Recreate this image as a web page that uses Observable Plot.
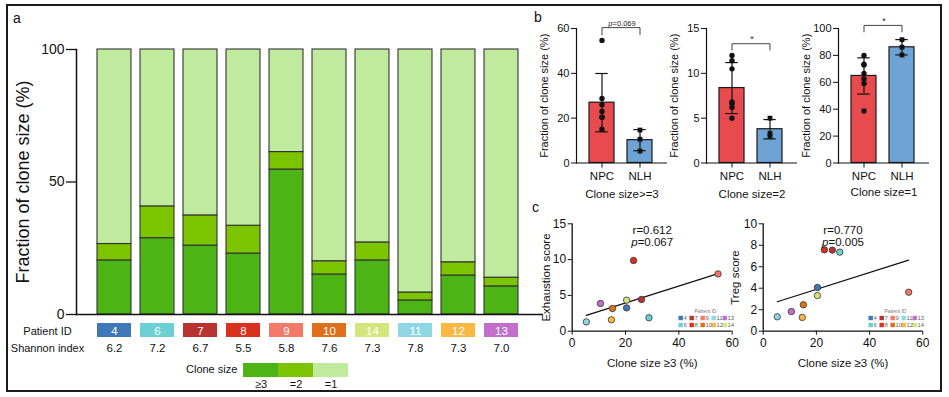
<!DOCTYPE html>
<html><head><meta charset="utf-8">
<script src="https://cdn.jsdelivr.net/npm/d3@7"></script>
<script src="https://cdn.jsdelivr.net/npm/@observablehq/plot@0.6"></script>
<style>
body{margin:0;background:#fff;font-family:"Liberation Sans",Arial,Helvetica,sans-serif;}
#fig{position:relative;width:949px;height:397px;overflow:hidden;background:#fff;}
.lbl{position:absolute;font-size:11px;color:#111;white-space:nowrap;line-height:1;}
#border{position:absolute;left:6px;top:4px;width:936px;height:388px;border:2px solid #1a1a1a;box-sizing:border-box;}
</style></head><body><div id="fig"><div id="border"></div></div>
<script>
// ---------- data ----------
const patients = ["4","6","7","8","9","10","14","11","12","13"];
const patientColors = ["#3f78b9","#6ccfd2","#b93330","#d9301f","#f3796a","#e06f1b","#d4e67b","#8fd8e3","#f8b843","#c16fca"];
const groups = ["NPC","NPC","NPC","NPC","NPC","NPC","NPC","NLH","NLH","NLH"];
const cloneGe3 = [20.4, 28.8, 26.0, 23.0, 54.7, 15.1, 20.4, 5.3, 14.7, 10.6];
const cloneEq2 = [6.2, 12.0, 11.4, 10.5, 6.6, 5.0, 6.8, 3.0, 5.0, 3.3];
const shannon = [6.2, 7.2, 6.7, 5.5, 5.8, 7.6, 7.3, 7.8, 7.3, 7.0];
const exhaustion = [3.26, 1.87, 4.43, 9.87, 8.0, 3.17, 4.33, 1.3, 1.59, 3.87];
const treg = [4.07, 7.36, 7.55, 7.58, 3.63, 2.46, 3.32, 1.34, 1.28, 1.83];
const sizeLabels = ["≥3","=2","=1"];
const sizeColors = ["#4cb414","#7cc300","#c0eb9f"];
const groupNames = ["NPC","NLH"];
const groupColors = ["#e84b4d","#6fa3d5"];
const legendOrder = ["4","7","9","11","13","6","8","10","12","14"];
const bKeys = ["ge3","eq2","eq1"];
const bMax = [60, 15, 100];
const bTicks = [[0,20,40,60],[0,5,10,15],[0,20,40,60,80,100]];
const bTitles = ["Clone size>=3","Clone size=2","Clone size=1"];
const sigText = ["p=0.069","*","*"];
const sigBracket = [[60.4,57.2],[13.3,12.6],[102.3,97.5]];
const sigFont = [7.5, 9, 9];

// ---------- derived table ----------
const rows = patients.map((p,i)=>({
  patient:p, group:groups[i], ge3:cloneGe3[i], eq2:cloneEq2[i],
  eq1: 100 - cloneGe3[i] - cloneEq2[i], shannon: shannon[i].toFixed(1),
  exhaustion: exhaustion[i], treg: treg[i]
}));
const stackData = rows.flatMap(r=>[
  {patient:r.patient,size:"≥3",value:r.ge3},
  {patient:r.patient,size:"=2",value:r.eq2},
  {patient:r.patient,size:"=1",value:r.eq1}
]);

const FONT = '"Liberation Sans", Arial, Helvetica, sans-serif';
const baseStyle = {overflow:"visible", background:"transparent", fontFamily:FONT, color:"#111"};
const fig = document.getElementById("fig");
function place(svg, left, top){
  svg.style.position="absolute"; svg.style.left=left+"px"; svg.style.top=top+"px";
  svg.style.maxWidth="none";
  fig.appendChild(svg);
  d3.select(svg).selectAll("text").filter(function(){return /^p=/.test(this.textContent) && this.children.length===0;})
    .each(function(){const t=this.textContent; this.textContent=""; const s=d3.select(this);
      s.append("tspan").attr("font-style","italic").text("p"); s.append("tspan").text(t.slice(1));});
}
function label(txt, left, top, size, extra){
  const d=document.createElement("div"); d.className="lbl"; d.textContent=txt;
  d.style.left=left+"px"; d.style.top=top+"px"; if(size) d.style.fontSize=size+"px";
  if(extra) Object.assign(d.style, extra);
  fig.appendChild(d);
}
const xBandA = {domain:patients, paddingInner:0.2, paddingOuter:0.433, align:0.47, axis:null};

// ---------- panel a ----------
place(Plot.plot({
  width:560, height:320, marginLeft:76, marginRight:17, marginTop:49, marginBottom:6,
  style:baseStyle,
  x:xBandA,
  y:{domain:[0,100]},
  color:{domain:sizeLabels, range:sizeColors},
  marks:[
    Plot.barY(stackData,{x:"patient", y:"value", fill:"size", stroke:"#333", strokeWidth:1.1}),
    Plot.ruleY([0],{stroke:"#111", strokeWidth:1.5}),
    Plot.frame({anchor:"left", stroke:"#111", strokeWidth:1.5}),
    Plot.axisY({ticks:[0,50,100], tickSize:10, tickPadding:2, fontSize:14, label:null, strokeWidth:1.3}),
    Plot.axisY({ticks:[], tickSize:0, label:"Fraction of clone size (%)", labelAnchor:"center", labelOffset:60, labelArrow:"none", fontSize:18})
  ]
}), 0, 0);

place(Plot.plot({
  width:560, height:40, marginLeft:76, marginRight:17, marginTop:4, marginBottom:2,
  style:baseStyle,
  x:xBandA,
  y:{domain:["Patient ID","Shannon index"], padding:0},
  color:{domain:patients, range:patientColors},
  marks:[
    Plot.cell(rows,{x:"patient", y:()=>"Patient ID", fill:"patient", insetTop:1, insetBottom:2}),
    Plot.text(rows,{x:"patient", y:()=>"Patient ID", text:"patient", fill:"white", fontSize:11.5}),
    Plot.text(rows,{x:"patient", y:()=>"Shannon index", text:"shannon", fill:"#111", fontSize:11.5}),
    Plot.axisY({tickSize:0, tickPadding:29, textAnchor:"middle", fontSize:11, label:null})
  ]
}), 0, 318);

place(Plot.plot({
  width:107, height:32, marginTop:1, marginBottom:17, marginLeft:0, marginRight:0,
  style:baseStyle,
  x:{domain:sizeLabels, padding:0},
  color:{domain:sizeLabels, range:sizeColors},
  marks:[
    Plot.cell(sizeLabels,{x:d=>d, fill:d=>d}),
    Plot.axisX({tickSize:0, tickPadding:3, fontSize:11, label:null})
  ]
}), 242, 362);
label("Clone size", 186, 364, 11);
label("a", 13, 11, 14);
label("b", 534, 10, 14);
label("c", 532, 200, 14);

// ---------- panel b ----------
const bLeft = [530, 660, 792];
bKeys.forEach((key, k)=>{
  const stats = groupNames.map(g=>{
    const v = rows.filter(r=>r.group===g).map(r=>r[key]);
    const m = d3.mean(v), s = d3.deviation(v);
    return {group:g, mean:m, lo:m-s, hi:m+s};
  });
  const caps = stats.flatMap(d=>[{group:d.group, y:d.lo},{group:d.group, y:d.hi}]);
  const [top, leg] = sigBracket[k];
  const bracket = [{group:"NPC",y:leg},{group:"NPC",y:top},{group:"NLH",y:top},{group:"NLH",y:leg}];
  place(Plot.plot({
    width:147, height:197, marginLeft:46, marginRight:10, marginTop:28, marginBottom:34.5,
    style:baseStyle,
    x:{domain:groupNames, paddingInner:0.342, paddingOuter:0.368, align:0.464},
    y:{domain:[0,bMax[k]]},
    color:{domain:groupNames, range:groupColors},
    symbol:{domain:groupNames, range:["circle","square"]},
    marks:[
      Plot.barY(stats,{x:"group", y:"mean", fill:"group", stroke:"#1a1a1a", strokeWidth:1.2}),
      Plot.ruleX(stats,{x:"group", y1:"lo", y2:"hi", stroke:"#111", strokeWidth:1.2}),
      Plot.tickY(caps,{x:"group", y:"y", insetLeft:6.3, insetRight:6.3, stroke:"#111", strokeWidth:1.2}),
      Plot.dot(rows,{x:"group", y:key, symbol:"group", fill:"#111", r:2.7}),
      Plot.line(bracket,{x:"group", y:"y", stroke:"#444", strokeWidth:1}),
      Plot.text([sigText[k]],{y:()=>top, text:d=>d, dy:-4.5, fontSize:sigFont[k], fill:"#222"}),
      Plot.ruleY([0],{stroke:"#111", strokeWidth:1.2}),
      Plot.frame({anchor:"left", stroke:"#111", strokeWidth:1.2}),
      Plot.axisY({ticks:bTicks[k], tickSize:5, tickPadding:2, fontSize:11, label:"Fraction of clone size (%)", labelAnchor:"center", labelOffset:36, labelArrow:"none"}),
      Plot.axisX({tickSize:5, tickPadding:3.5, fontSize:11.5, label:bTitles[k], labelAnchor:"center", labelOffset: k===2 ? 33 : 35, labelArrow:"none"})
    ]
  }), bLeft[k], 0);
});

// ---------- panel c ----------
function scatter(key, left, marginLeft, frameRight, yMax, yTicks, yLabel, yLabelOffset, rTxt, pTxt){
  place(Plot.plot({
    width: frameRight - left + 10, height:170, marginLeft, marginRight:10, marginTop:23.3, marginBottom:39.3,
    style:baseStyle,
    x:{domain:[0,60]},
    y:{domain:[0,yMax]},
    color:{domain:patients, range:patientColors},
    marks:[
      Plot.linearRegressionY(rows,{x:"ge3", y:key, ci:0, stroke:"#111", strokeWidth:1.2}),
      Plot.dot(rows,{x:"ge3", y:key, fill:"patient", stroke:"#333", strokeWidth:0.8, r:3.2}),
      Plot.ruleX([0],{stroke:"#111", strokeWidth:1.3}),
      Plot.ruleY([0],{stroke:"#111", strokeWidth:1.3}),
      Plot.axisX({ticks:[0,20,40,60], tickSize:4, tickPadding:3.5, fontSize:12, label:null}),
      Plot.axisX({ticks:[], tickSize:0, label:"Clone size ≥3 (%)", labelAnchor:"center", labelOffset:36, labelArrow:"none", fontSize:11.5}),
      Plot.axisY({ticks:yTicks, tickSize:4, tickPadding:2, fontSize:12, label:null}),
      Plot.axisY({ticks:[], tickSize:0, label:yLabel, labelAnchor:"center", labelOffset:yLabelOffset, labelArrow:"none", fontSize:11.5}),
      Plot.text([rTxt],{frameAnchor:"top", dy:2, fontSize:11.5, fill:"#111"}),
      Plot.text([pTxt],{frameAnchor:"top", dy:13.7, fontSize:11.5, fill:"#111"})
    ]
  }), left, 200);
}
scatter("exhaustion", 530, 41.7, 731.7, 15, [0,5,10,15], "Exhaustion score", 30, "r=0.612", "p=0.067");
scatter("treg", 722, 40.7, 922.3, 10, [0,2,4,6,8,10], "Treg score", 32, "r=0.770", "p=0.005");

function scatterLegend(left, top){
  const items = legendOrder.map((p,i)=>({p, col:i%5, row:Math.floor(i/5)}));
  place(Plot.plot({
    width:60, height:24, marginTop:10, marginLeft:2, marginRight:2, marginBottom:0,
    style:baseStyle,
    x:{type:"band", domain:[0,1,2,3,4], padding:0, axis:null},
    y:{type:"band", domain:[0,1], padding:0, axis:null},
    color:{domain:patients, range:patientColors},
    marks:[
      Plot.dot(items,{x:"col", y:"row", fill:"p", symbol:"square", r:2.5, dx:-3.3}),
      Plot.text(items,{x:"col", y:"row", text:"p", textAnchor:"start", dx:-0.6, fontSize:6, fill:"#666"}),
      Plot.text(["Patient ID"],{frameAnchor:"top", dy:-5.5, fontSize:5, fill:"#777"})
    ]
  }), left, top);
}
scatterLegend(674.5, 304);
scatterLegend(864.5, 304);
</script></body></html>
